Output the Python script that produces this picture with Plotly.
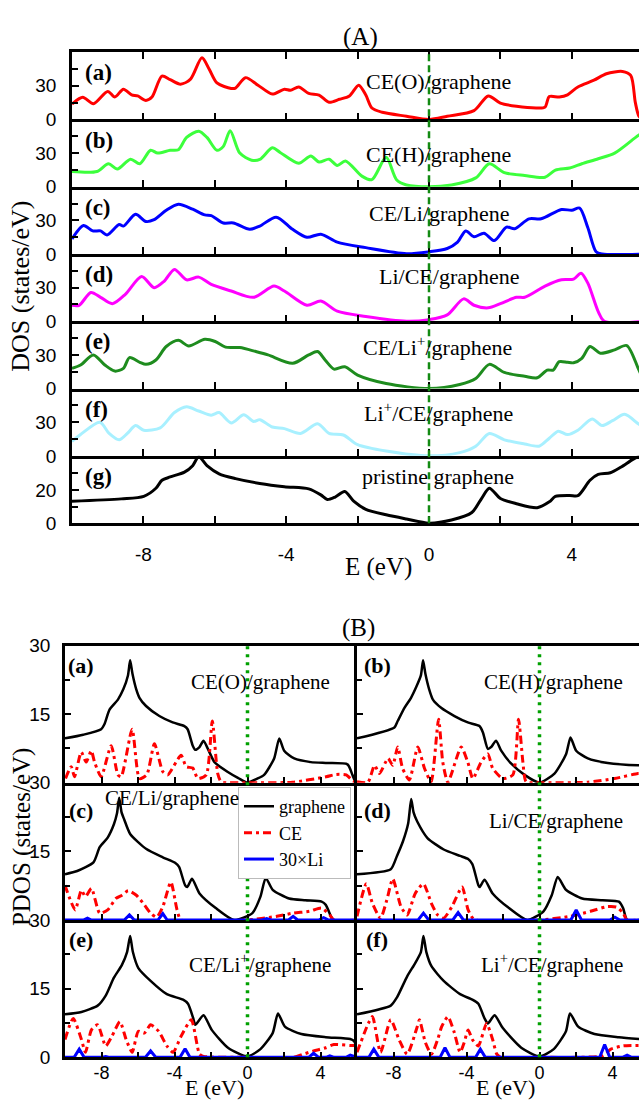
import plotly.graph_objects as go

W, H = 639, 1113

# ---------------- Part (A) data: total DOS ----------------
E_a = [-10, -9.7, -9.4, -9.0, -8.8, -8.56, -8.33, -8.16, -7.93, -7.76, -7.48, -7.25, -6.96, -6.68, -6.36, -6.16, -5.94, -5.54, -5.42, -5.14, -4.79, -4.39, -4.05, -3.88, -3.65, -3.37, -3.08, -2.8, -2.51, -2.23, -1.97, -1.77, -1.6, -1.31, -0.63, 0, 0.51, 1.26, 1.66, 2.0, 2.45, 3.03, 3.25, 3.37, 3.65, 3.88, 4.17, 4.62, 4.97, 5.42, 5.65, 5.78, 5.88, 6.0]
DOS_a = [13.7, 19.8, 14, 25, 20, 27, 22, 21, 17, 20, 38.7, 35.5, 31.5, 36, 55, 45, 32.6, 27.7, 28, 37.3, 30.6, 22.7, 27, 26, 29, 23.3, 21.8, 15.4, 18, 21, 30.6, 21.8, 10.2, 6.4, 2.9, 0, 2.9, 7.9, 21, 14.6, 11.7, 10.2, 11, 20.4, 20, 22, 29, 35, 40.8, 42.8, 39.3, 15, 3, 0]

E_b = [-10, -9.3, -8.98, -8.73, -8.36, -8.1, -7.8, -7.6, -7.25, -7.02, -6.79, -6.45, -6.22, -5.94, -5.76, -5.57, -5.3, -4.97, -4.74, -4.39, -4.17, -3.65, -3.31, -3.08, -2.8, -2.57, -2.34, -1.88, -1.6, -1.2, -0.91, -0.63, 0, 0.63, 1.31, 1.69, 2.11, 2.68, 3.25, 3.54, 3.94, 4.28, 4.74, 5.2, 5.86, 6.0]
DOS_b = [13.6, 13.6, 20.5, 15.8, 24.6, 20.5, 32.5, 30, 32.5, 33, 44, 49.5, 44, 32.5, 36, 50, 30, 23.7, 24.3, 34.7, 30.6, 21, 27.4, 22, 24.6, 19, 23, 9.5, 6.3, 26.2, 6.3, 1.6, 0, 1.6, 7.9, 20.5, 12.6, 10, 8.5, 14.8, 16.7, 20.5, 25, 30, 45.7, 48]

E_c = [-10, -9.68, -9.42, -9.2, -9.02, -8.68, -8.56, -8.22, -7.93, -7.7, -7.36, -7.02, -6.62, -6.28, -6.1, -5.76, -5.48, -5.02, -4.74, -4.28, -3.82, -3.42, -3.03, -2.57, -1.77, -0.63, 0, 0.51, 0.8, 1.03, 1.26, 1.54, 1.83, 2.17, 2.4, 2.8, 3.14, 3.71, 4.0, 4.22, 4.45, 4.68, 4.85, 6.0]
DOS_c = [13.4, 25.4, 20.6, 20.6, 17, 26.3, 24.9, 35.4, 29, 30.6, 39, 44.3, 40, 34.9, 34.3, 27.7, 27.7, 22, 24.9, 32.9, 22, 14.9, 17.7, 10.6, 5.7, 0.3, 2, 4.9, 10.6, 20.6, 15.4, 18.6, 12, 24, 22.6, 31.4, 31.4, 39.7, 39, 41, 23.4, 2, 0, 0]

E_d = [-10, -9.8, -9.47, -9.2, -8.87, -8.5, -8.05, -7.7, -7.42, -7.13, -6.79, -6.45, -6.1, -5.54, -4.91, -4.34, -4.05, -3.42, -3.03, -2.57, -1.77, -0.63, 0, 0.51, 0.97, 1.26, 1.66, 2.0, 2.45, 2.68, 3.25, 3.71, 4.05, 4.26, 4.45, 4.74, 4.91, 6.0]
DOS_d = [14.3, 14.3, 25.7, 21.4, 15.7, 24.3, 40, 30, 35.7, 46.3, 37, 39.4, 32.9, 27, 21.4, 31.4, 27, 14.3, 18, 9, 4.3, 0.1, 1.5, 5.7, 20, 14.3, 12, 15.7, 21.4, 21.4, 31.4, 37, 37.6, 42.9, 34, 8.6, 0, 0]

E_e = [-10, -9.76, -9.4, -9.08, -8.8, -8.56, -8.39, -8.1, -7.93, -7.65, -7.36, -7.02, -6.73, -6.28, -5.99, -5.7, -5.3, -4.85, -4.51, -3.82, -3.37, -3.12, -2.91, -2.66, -2.36, -2.0, -1.2, 0, 0.86, 1.31, 1.69, 2.11, 2.68, 3.03, 3.31, 3.48, 3.65, 3.88, 4.05, 4.28, 4.51, 4.8, 5.2, 5.54, 5.86, 6.0]
DOS_e = [18, 21, 30, 21, 15.6, 18, 27.6, 23.4, 21.6, 25.5, 37.5, 43, 38, 44, 42, 37, 36.6, 33, 30, 22.5, 30, 33, 25.5, 17.4, 19.5, 12, 4.5, 0, 3.6, 9, 21.6, 14.4, 11, 9.6, 16.5, 16.5, 24, 23.4, 23, 27, 37.5, 31.5, 34.5, 38.4, 18, 8]

E_f = [-10, -9.76, -9.22, -8.96, -8.68, -8.45, -8.22, -7.99, -7.53, -7.13, -6.79, -6.45, -6.1, -5.88, -5.54, -5.19, -4.91, -4.74, -4.39, -4.05, -3.6, -3.12, -2.8, -2.4, -2.0, -1.2, 0, 0.86, 1.31, 1.69, 2.11, 2.68, 3.08, 3.37, 3.62, 3.88, 4.17, 4.57, 4.85, 5.14, 5.48, 5.86, 6.0]
DOS_f = [12.9, 19, 30, 20, 14.3, 20, 27, 22.9, 24.9, 38.6, 43.7, 40, 36.3, 38.6, 29.4, 36.6, 30.6, 32.3, 25.7, 24.3, 20, 28.6, 20, 18.6, 10, 4.3, 0, 2.9, 8.6, 20, 14.3, 10.6, 8.6, 15.7, 22, 19, 22.9, 32.9, 27, 31.4, 37, 28.6, 26]

E_g = [-10, -8.62, -7.99, -7.65, -7.48, -7.25, -6.85, -6.62, -6.45, -6.22, -5.88, -5.42, -4.74, -4.05, -3.37, -3.03, -2.85, -2.63, -2.36, -2.11, -1.77, -1.2, -0.63, 0, 0.63, 1.2, 1.48, 1.69, 2.0, 2.45, 3.03, 3.37, 3.54, 3.94, 4.17, 4.51, 4.74, 5.08, 5.37, 5.71, 5.86, 6.0]
DOS_g = [13.2, 14.6, 16.1, 21, 25.8, 27.8, 30.7, 34.6, 40, 34.6, 29.7, 26.8, 23.9, 21.9, 20.6, 17, 14.2, 15.7, 19, 13.2, 8.3, 5, 2.5, 0, 1.9, 6.4, 15.1, 21, 14.8, 11.7, 9.3, 12.8, 16.1, 16.7, 16.5, 25.8, 29.3, 30.3, 33.6, 38.4, 40, 41]

A_names = ["CE(O)/graphene", "CE(H)/graphene", "CE/Li/graphene", "Li/CE/graphene",
           "CE/Li<sup>+</sup>/graphene", "Li<sup>+</sup>/CE/graphene", "pristine graphene"]
A_tags = ["(a)", "(b)", "(c)", "(d)", "(e)", "(f)", "(g)"]
A_colors = ["#FF0000", "#3CFF3C", "#0000FF", "#FF00FF", "#1E8C1E", "#A8F0FF", "#000000"]
A_E = [E_a, E_b, E_c, E_d, E_e, E_f, E_g]
A_DOS = [DOS_a, DOS_b, DOS_c, DOS_d, DOS_e, DOS_f, DOS_g]
A_yticks = [[0, 30]] * 6 + [[0, 20]]
A_yminor = [[15, 45]] * 6 + [[10, 30]]
A_ymax = [60] * 6 + [40.5]

# ---------------- Part (B) data: projected DOS ----------------
# (a) CE(O)/graphene
Eg_Ba = [-10, -9.0, -8.02, -7.84, -7.56, -7.1, -6.8, -6.55, -6.43, -6.3, -6.1, -5.92, -5.56, -4.83, -4.1, -3.46, -3.28, -3.0, -2.86, -2.63, -2.41, -2.17, -1.81, -1.1, -0.5, 0, 0.5, 0.91, 1.46, 1.74, 2.01, 2.56, 3.47, 4.38, 5.48, 5.75, 5.93, 6.0]
Gr_Ba = [9.7, 10.5, 11.7, 12.8, 16, 18.2, 20.5, 23.5, 26.8, 23.8, 20.5, 18.6, 16.8, 14.6, 13.2, 12.4, 11.7, 8.1, 7.2, 7.8, 9.2, 7.4, 4.5, 2.4, 1.0, 0, 0.8, 1.7, 5.3, 9.7, 7, 5.3, 4.5, 4.3, 4.0, 1.7, 0, 0]
Ec_Ba = [-9.97, -9.66, -9.48, -9.11, -8.84, -8.56, -8.38, -8.02, -7.47, -7.1, -6.92, -6.32, -5.92, -5.52, -5.1, -4.64, -4.37, -3.64, -3.36, -3.0, -2.72, -2.26, -1.93, -1.63, -1.44, 0, 2.48, 4.31, 4.86, 5.41, 5.77, 6.0]
CE_Ba = [0.9, 3.5, 1.3, 6.7, 4.5, 7, 4.5, 1.3, 8.1, 1.7, 1.3, 11.7, 0.9, 1.7, 8.5, 2.4, 1.7, 6, 3.5, 3.2, 0.9, 1.7, 13.5, 2, 0.2, 0, 0.1, 1.3, 1.8, 1.7, 0.4, 0]

# (b) CE(H)/graphene
Eg_Bb = [-10, -7.95, -7.77, -7.4, -7.04, -6.75, -6.5, -6.38, -6.25, -6.05, -5.84, -5.39, -4.66, -3.93, -3.29, -3.1, -2.83, -2.65, -2.38, -2.1, -1.56, -0.82, 0, 0.82, 1.46, 1.7, 2.01, 2.65, 3.74, 5.39, 5.5]
Gr_Bb = [9.7, 12.1, 13.5, 16.4, 18.6, 21, 23.5, 26.8, 23.8, 20.5, 18.2, 16.4, 14.6, 13.2, 12.4, 11, 7.4, 7.8, 9.2, 7, 4.2, 1.7, 0, 2, 6.3, 9.9, 7, 5.3, 4.3, 3.8, 3.8]
Ec_Bb = [-10, -9.4, -9.04, -8.77, -8.3, -8.04, -7.77, -7.5, -7.13, -6.67, -6.3, -5.94, -5.53, -5.3, -5.02, -4.29, -3.93, -3.65, -3.2, -2.83, -2.56, -2.01, -1.46, -1.15, -0.91, -0.73, 0, 2.65, 4.11, 5.39, 5.5]
CE_Bb = [0.2, 0.1, 3.8, 2, 5.3, 3.8, 7.8, 3.1, 0.6, 7.8, 3.1, 0.2, 13.9, 4.5, 0.1, 7.8, 4.5, 0.9, 4.5, 6.3, 3.1, 0.9, 1.7, 13.9, 4.5, 0.2, 0, 0.1, 0.9, 2, 2]

# (c) CE/Li/graphene
Eg_Bc = [-10, -9.33, -8.44, -8.1, -7.66, -7.32, -7.15, -7.03, -6.9, -6.76, -6.43, -5.54, -4.64, -3.97, -3.75, -3.42, -3.3, -3.04, -2.63, -1.74, -0.74, 0.27, 0.71, 1.0, 1.38, 2.28, 3.17, 4.06, 4.29, 4.62, 4.73, 6.0]
Gr_Bc = [10, 10.7, 12.6, 15.9, 18, 20.9, 23.3, 26.7, 23.5, 22.0, 18.8, 15.5, 13.7, 12.5, 11.6, 7.6, 7.2, 9, 5.8, 2.6, 0, 1.5, 5.1, 9.2, 6.6, 4.7, 4.3, 4, 3.3, 0.4, 0, 0]
Ec_Bc = [-10, -9.78, -9.44, -9.1, -8.88, -8.55, -8.1, -7.66, -7.21, -6.88, -6.54, -6.09, -5.65, -5.31, -4.98, -4.64, -4.2, -3.86, -3.64, 0, 1.61, 2.5, 3.39, 4.06, 4.51, 4.73, 6.0]
CE_Bc = [7.6, 5.1, 2.2, 6.5, 5.1, 6.9, 1.5, 2.2, 4.7, 5.4, 6.4, 5.4, 3.3, 1.5, 0.6, 2.9, 8.3, 2.2, 0, 0, 0.8, 1.5, 1.9, 2.6, 1.1, 0, 0]
El_Bc = [-10, -9.0, -8.77, -8.55, -6.75, -6.47, -6.2, -4.9, -4.64, -4.4, 0.8, 1.05, 1.3, 2.25, 2.5, 2.75, 3.9, 4.17, 4.45, 6.0]
Li_Bc = [0, 0, 0.4, 0, 0, 1.1, 0, 0, 1.4, 0, 0, 0.3, 0, 0, 0.8, 0, 0, 0.5, 0, 0]

# (d) Li/CE/graphene
Eg_Bd = [-10, -8.15, -7.81, -7.48, -7.2, -7.03, -6.9, -6.7, -6.14, -5.25, -4.35, -3.91, -3.68, -3.35, -3.28, -3.01, -2.57, -1.67, -0.67, 0.22, 0.67, 1.0, 1.45, 2.34, 3.46, 4.35, 4.58, 4.8, 5.5]
Gr_Bd = [10, 11.1, 14, 17.2, 21, 26.4, 23.5, 21.5, 17.9, 15.4, 14, 13.3, 12.2, 7.6, 7.2, 8.8, 5.8, 2.6, 0, 1.9, 5.4, 9.4, 6.6, 4.7, 4.3, 4, 2.6, 0, 0]
Ec_Bd = [-10, -9.49, -9.15, -8.71, -8.37, -8.04, -7.59, -7.25, -6.81, -6.36, -5.92, -5.58, -5.25, -4.8, -4.24, -3.91, -3.57, 0, 1.67, 2.79, 3.68, 4.24, 4.58, 4.8, 5.5]
CE_Bd = [0.8, 7.9, 3.6, 0.4, 4.3, 9, 2.9, 1.1, 5.8, 7.9, 3.6, 1.1, 0.4, 2.9, 7.2, 2.2, 0.1, 0, 0.8, 1.9, 2.9, 2.8, 1.5, 0, 0]
El_Bd = [-10, -6.65, -6.36, -6.07, -4.75, -4.46, -4.17, 1.72, 2.01, 2.3, 3.85, 4.13, 4.4, 5.5]
Li_Bd = [0, 0, 1.5, 0, 0, 1.6, 0, 0, 2.2, 0, 0, 0.6, 0, 0]

# (e) CE/Li+/graphene
Eg_Be = [-10, -9.1, -8.21, -7.77, -7.32, -6.88, -6.6, -6.43, -6.28, -5.98, -5.31, -4.42, -3.53, -3.26, -2.97, -2.86, -2.41, -1.96, -1.07, 0, 0.71, 1.38, 1.67, 2.05, 2.95, 4.29, 5.63, 5.85, 6.0]
Gr_Be = [9.4, 9.9, 11.3, 13.5, 17.4, 20.2, 23, 26.5, 23, 19.5, 16.7, 13.8, 12.6, 11.7, 8.5, 7.1, 9.2, 6, 2.1, 0.2, 1.8, 5.3, 9.6, 6.7, 5.1, 4.4, 4, 3.5, 1.8]
Ec_Be = [-10, -9.55, -9.1, -8.88, -8.55, -8.21, -7.77, -7.43, -6.99, -6.65, -6.32, -5.98, -5.65, -5.31, -4.87, -4.42, -4.08, -3.64, -3.08, -2.63, -2.41, 0, 2.5, 3.06, 3.62, 4.29, 4.73, 5.63, 6.0]
CE_Be = [3.9, 8.5, 3.9, 1.1, 6, 7.1, 2.5, 4.6, 7.8, 3.9, 1.1, 5.7, 5.3, 7.1, 5.7, 2.5, 1.1, 4.6, 8.2, 0.7, 0.2, 0, 0, 0.7, 1.4, 2.1, 2.8, 2.6, 2.6]
El_Be = [-10, -9.5, -9.22, -8.95, -8.0, -7.77, -7.55, -5.6, -5.31, -5.02, -3.7, -3.42, -3.15, 3.35, 3.62, 3.9, 4.3, 4.51, 4.75, 5.4, 5.63, 5.85, 6.0]
Li_Be = [0, 0, 1.8, 0, 0, 0.2, 0, 0, 1.4, 0, 0, 1.9, 0, 0, 0.9, 0, 0, 0.35, 0, 0, 0.5, 0.2, 0]

# (f) Li+/CE/graphene
Eg_Bf = [-10, -8.15, -7.81, -7.25, -6.81, -6.5, -6.36, -6.2, -5.92, -5.25, -4.35, -3.68, -3.35, -3.01, -2.83, -2.46, -2.01, -1.0, 0, 0.78, 1.45, 1.67, 2.12, 3.01, 4.35, 5.5]
Gr_Bf = [9.4, 11.3, 13.1, 17.7, 20.6, 23, 26.5, 23, 19.9, 16.7, 13.8, 12.6, 11.7, 8.5, 7.4, 9.2, 6.4, 2.1, 0.2, 1.8, 5.7, 9.6, 6.7, 5.1, 4.4, 4]
Ec_Bf = [-10, -9.38, -9.15, -8.71, -8.15, -7.7, -7.25, -6.7, -6.58, -6.25, -5.92, -5.58, -5.36, -5.02, -4.69, -4.35, -4.13, -3.91, -3.68, -3.35, -2.9, -2.57, -2.34, -2.12, 0, 3.46, 3.91, 4.58, 5.5]
CE_Bf = [1.1, 7.4, 8.9, 1.1, 8.2, 3.9, 0.7, 6.7, 8.2, 3.2, 0.7, 3.9, 6.7, 8.9, 5.7, 1.1, 3.2, 6, 3.9, 2.5, 7.4, 3.9, 0.7, 0, 0, 0.35, 1.8, 2.5, 2.6]
El_Bf = [-10, -9.35, -9.08, -8.8, -5.45, -5.18, -4.9, -3.5, -3.24, -2.97, 3.3, 3.57, 3.85, 4.55, 4.8, 5.05, 5.5]
Li_Bf = [0, 0, 1.8, 0, 0, 2.1, 0, 0, 1.8, 0, 0, 2.8, 0, 0, 0.5, 0, 0]

B_names = ["CE(O)/graphene", "CE(H)/graphene", "CE/Li/graphene", "Li/CE/graphene",
           "CE/Li<sup>+</sup>/graphene", "Li<sup>+</sup>/CE/graphene"]
B_tags = ["(a)", "(b)", "(c)", "(d)", "(e)", "(f)"]
B_gr = [(Eg_Ba, Gr_Ba), (Eg_Bb, Gr_Bb), (Eg_Bc, Gr_Bc), (Eg_Bd, Gr_Bd), (Eg_Be, Gr_Be), (Eg_Bf, Gr_Bf)]
B_ce = [(Ec_Ba, CE_Ba), (Ec_Bb, CE_Bb), (Ec_Bc, CE_Bc), (Ec_Bd, CE_Bd), (Ec_Be, CE_Be), (Ec_Bf, CE_Bf)]
B_li = [None, None, (El_Bc, Li_Bc), (El_Bd, Li_Bd), (El_Be, Li_Be), (El_Bf, Li_Bf)]
legend_names = ["graphene", "CE", "30\u00d7Li"]

# ---------------- layout helpers ----------------
def xp(px):
    return px / W

def yp(py):
    return 1 - py / H

SERIF = "Liberation Serif, Times New Roman, serif"
SANS = "Liberation Sans, Arial, sans-serif"

fig = go.Figure()
layout = {}
annotations = []
shapes = []

def axname(n, kind):
    return kind + ("" if n == 1 else str(n))

def axref(n, kind):
    return kind + ("" if n == 1 else str(n))

# ---- Part A panels ----
A_top, A_bot = 43.0, 523.0
A_h = (A_bot - A_top) / 7
A_left = 72.0
A_xmax = -10 + (W - A_left) / 35.7

for i in range(7):
    n = i + 1
    top = A_top + i * A_h
    bot = top + A_h
    fig.add_trace(go.Scatter(
        x=A_E[i], y=A_DOS[i], mode="lines",
        line=dict(color=A_colors[i], width=3, shape="spline", smoothing=0.8),
        xaxis=axref(n, "x"), yaxis=axref(n, "y"), showlegend=False, hoverinfo="skip"))
    layout[axname(n, "xaxis")] = dict(
        domain=[xp(A_left), 1.0], range=[-10, A_xmax], anchor=axref(n, "y"),
        showline=True, linecolor="black", linewidth=2.5,
        mirror="ticks" if i == 0 else False,
        ticks="inside", ticklen=7, tickwidth=2, tickcolor="black",
        tickmode="array", tickvals=[-8, -4, 0, 4], ticktext=["-8", "-4", "0", "4"],
        minor=dict(tickvals=[-10, -6, -2, 2], ticks="inside", ticklen=7, tickwidth=2, tickcolor="black"),
        showticklabels=(i == 6), tickfont=dict(family=SANS, size=19, color="black"),
        ticklabelstandoff=12, showgrid=False, zeroline=False)
    layout[axname(n, "yaxis")] = dict(
        domain=[yp(bot), yp(top)], range=[0, A_ymax[i]], anchor=axref(n, "x"),
        showline=True, linecolor="black", linewidth=2.5, mirror=False,
        ticks="inside", ticklen=7, tickwidth=2, tickcolor="black",
        tickmode="array", tickvals=A_yticks[i], ticktext=[str(v) for v in A_yticks[i]],
        minor=dict(tickvals=A_yminor[i], ticks="inside", ticklen=6, tickwidth=2, tickcolor="black"),
        tickfont=dict(family=SANS, size=19, color="black"), ticklabelstandoff=9,
        showgrid=False, zeroline=False)
    annotations.append(dict(text="<b>" + A_tags[i] + "</b>", xref="paper", yref="paper",
                            x=xp(83), y=yp(top + 21), xanchor="left", yanchor="middle",
                            showarrow=False, font=dict(family=SERIF, size=23, color="black")))

A_label_pos = [(438, 73), (438, 147), (439, 207), (449, 272), (437, 342), (438, 410), (438, 475)]
for i, (lx, ly) in enumerate(A_label_pos):
    annotations.append(dict(text=A_names[i], xref="paper", yref="paper", x=xp(lx), y=yp(ly),
                            xanchor="center", yanchor="middle", showarrow=False,
                            font=dict(family=SERIF, size=22, color="black")))

shapes.append(dict(type="line", xref="x7", yref="paper", x0=0, x1=0, y0=yp(A_bot), y1=yp(A_top),
                   line=dict(color="#138A13", width=2.5, dash="7px,4px"), layer="above"))

annotations.append(dict(text="(A)", xref="paper", yref="paper", x=xp(360), y=yp(28),
                        xanchor="center", yanchor="middle", showarrow=False,
                        font=dict(family=SERIF, size=25, color="black")))
annotations.append(dict(text="E (eV)", xref="paper", yref="paper", x=xp(378), y=yp(568),
                        xanchor="center", yanchor="middle", showarrow=False,
                        font=dict(family=SERIF, size=25, color="black")))
annotations.append(dict(text="DOS (states/eV)", xref="paper", yref="paper", x=xp(21), y=yp(282),
                        xanchor="center", yanchor="middle", showarrow=False, textangle=-90,
                        font=dict(family=SERIF, size=26, color="black")))

# ---- Part B panels ----
B_rows = [648.0, 787.5, 927.5, 1067.5]
B_cols = [(65.0, 357.0, 6.0), (357.0, float(W), -10 + (W - 357.0) / 18.25)]

for k in range(6):
    n = 8 + k
    r, c = k // 2, k % 2
    top, bot = B_rows[r], B_rows[r + 1]
    x0, x1, xmax = B_cols[c]
    xa, ya = axref(n, "x"), axref(n, "y")
    Eg, Gg = B_gr[k]
    Ec, Cc = B_ce[k]
    fig.add_trace(go.Scatter(x=Eg, y=Gg, mode="lines", name=legend_names[0],
                             line=dict(color="black", width=2.5, shape="spline", smoothing=0.6),
                             xaxis=xa, yaxis=ya, showlegend=(k == 2), hoverinfo="skip"))
    fig.add_trace(go.Scatter(x=Ec, y=Cc, mode="lines", name=legend_names[1],
                             line=dict(color="#FF0000", width=3, dash="8px,4px,3px,4px",
                                       shape="spline", smoothing=0.6),
                             xaxis=xa, yaxis=ya, showlegend=(k == 2), hoverinfo="skip"))
    if B_li[k] is not None:
        El, Ll = B_li[k]
        fig.add_trace(go.Scatter(x=El, y=Ll, mode="lines", name=legend_names[2],
                                 line=dict(color="#0000FF", width=3),
                                 xaxis=xa, yaxis=ya, showlegend=(k == 2), hoverinfo="skip"))
    layout[axname(n, "xaxis")] = dict(
        domain=[xp(x0), xp(x1)], range=[-10, xmax], anchor=ya,
        showline=True, linecolor="black", linewidth=2.5, mirror=(r == 0),
        ticks="inside", ticklen=6, tickwidth=2, tickcolor="black",
        tickmode="array", tickvals=[-8, -4, 0, 4], ticktext=["-8", "-4", "0", "4"],
        minor=dict(tickvals=[-10, -6, -2, 2], ticks="inside", ticklen=6, tickwidth=2, tickcolor="black"),
        showticklabels=(r == 2), tickfont=dict(family=SANS, size=18, color="black"),
        ticklabelstandoff=-3, showgrid=False, zeroline=False)
    yt = [15, 30] if r < 2 else [0, 15, 30]
    layout[axname(n, "yaxis")] = dict(
        domain=[yp(bot), yp(top)], range=[0, 30], anchor=xa,
        showline=True, linecolor="black", linewidth=2.5, mirror=False,
        ticks="inside", ticklen=6, tickwidth=2, tickcolor="black",
        tickmode="array", tickvals=yt, ticktext=[str(v) for v in yt],
        minor=dict(tickvals=[7.5, 22.5], ticks="inside", ticklen=5, tickwidth=2, tickcolor="black"),
        showticklabels=(c == 0), tickfont=dict(family=SANS, size=19, color="black"),
        ticklabelstandoff=8, showgrid=False, zeroline=False)
    tag_x = 81 if c == 0 else 377
    annotations.append(dict(text="<b>" + B_tags[k] + "</b>", xref="paper", yref="paper",
                            x=xp(tag_x), y=yp(top + 20 if r != 1 else top + 28),
                            xanchor="center", yanchor="middle", showarrow=False,
                            font=dict(family=SERIF, size=22, color="black")))

B_label_pos = [(260, 685), (553, 685), (172, 803), (556, 827), (260, 972), (552, 972)]
for k, (lx, ly) in enumerate(B_label_pos):
    annotations.append(dict(text=B_names[k], xref="paper", yref="paper", x=xp(lx), y=yp(ly),
                            xanchor="center", yanchor="middle", showarrow=False,
                            font=dict(family=SERIF, size=21, color="black")))

for xa in ["x8", "x9"]:
    shapes.append(dict(type="line", xref=xa, yref="paper", x0=0, x1=0,
                       y0=yp(B_rows[3]), y1=yp(B_rows[0]),
                       line=dict(color="#00A000", width=3.5, dash="3px,5px"), layer="above"))

annotations.append(dict(text="(B)", xref="paper", yref="paper", x=xp(358), y=yp(630),
                        xanchor="center", yanchor="middle", showarrow=False,
                        font=dict(family=SERIF, size=25, color="black")))
for ex in [214, 505]:
    annotations.append(dict(text="E (eV)", xref="paper", yref="paper", x=xp(ex), y=yp(1113),
                            xanchor="center", yanchor="bottom", showarrow=False,
                            font=dict(family=SERIF, size=22, color="black")))
annotations.append(dict(text="PDOS (states/eV)", xref="paper", yref="paper", x=xp(22), y=yp(843),
                        xanchor="center", yanchor="middle", showarrow=False, textangle=-90,
                        font=dict(family=SERIF, size=25, color="black")))

fig.update_layout(**layout)
fig.update_layout(
    width=W, height=H, margin=dict(l=0, r=0, t=0, b=0),
    paper_bgcolor="white", plot_bgcolor="white",
    annotations=annotations, shapes=shapes,
    showlegend=True,
    legend=dict(x=xp(238), y=yp(792), xanchor="left", yanchor="top",
                bgcolor="white", bordercolor="#BBBBBB", borderwidth=1,
                font=dict(family=SERIF, size=18, color="black"),
                itemwidth=30, tracegroupgap=0),
)

fig.write_html("out.html")
